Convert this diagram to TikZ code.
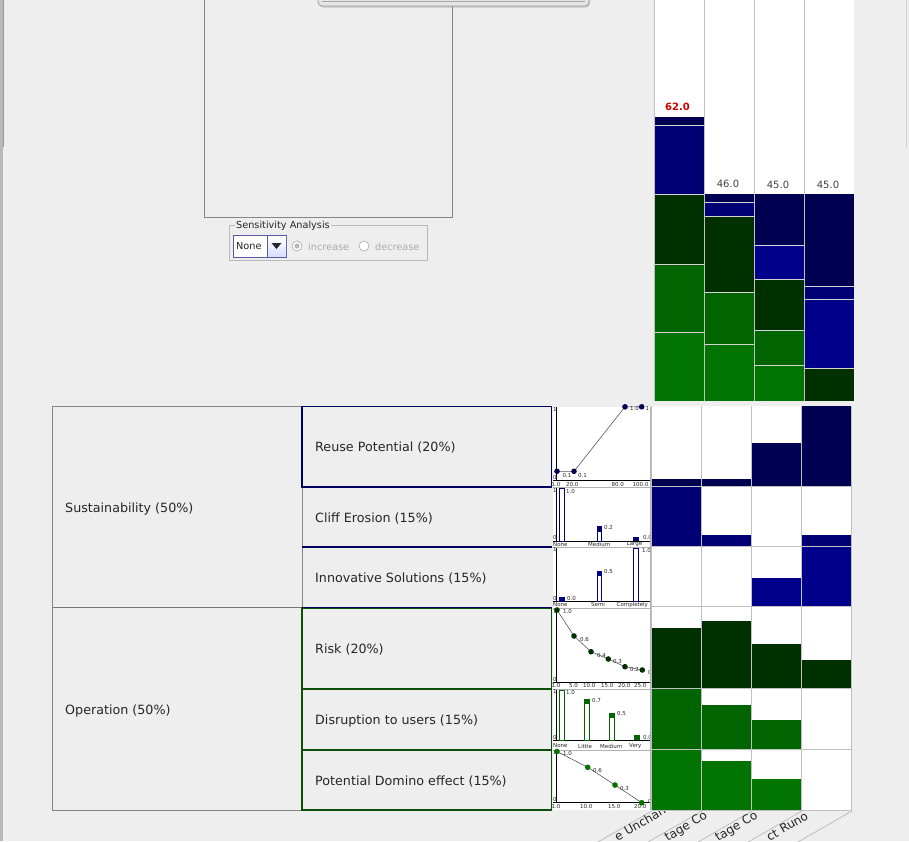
\documentclass[tikz,border=0pt]{standalone}
\usepackage{fontspec}
\setmainfont{DejaVu Sans}
\usetikzlibrary{shadows}
\definecolor{bg}{HTML}{EEEEEE}
\definecolor{frameg}{HTML}{858585}
\definecolor{navyT}{HTML}{000060}
\definecolor{greenT}{HTML}{0A4F0A}
\definecolor{reuseC}{HTML}{000052}
\definecolor{cliffC}{HTML}{000074}
\definecolor{innovC}{HTML}{00008A}
\definecolor{riskC}{HTML}{003000}
\definecolor{disC}{HTML}{006400}
\definecolor{domC}{HTML}{007300}
\definecolor{gridg}{HTML}{C0C0C0}
\definecolor{sepg}{HTML}{D4D4D4}
\definecolor{scoreRed}{HTML}{CC0000}
\begin{document}
\begin{tikzpicture}[x=1pt,y=-1pt,
  treetxt/.style={font=\fontsize{12.7}{15}\selectfont, text=black!85, anchor=west, inner sep=0},
  tinylab/.style={font=\fontsize{5.5}{6}\selectfont, inner sep=0, text=black!85, anchor=west},
  uitxt/.style={font=\fontsize{9.7}{11}\selectfont, inner sep=0, anchor=west},
  scoretxt/.style={font=\fontsize{10}{12}\selectfont, inner sep=0, text=black!75},
  hdrtxt/.style={font=\fontsize{12}{14}\selectfont, inner sep=0, anchor=base west, rotate=30, text=black!85},
  seg/.style={draw=sepg, line width=0.8pt},
  axisln/.style={black, line width=0.8pt},
  curve/.style={black!65, line width=0.6pt},
]
\useasboundingbox (0,0) rectangle (909,841);
\fill[bg] (0,0) rectangle (909,841);
% window edges
\fill[gray!55] (0,0) rectangle (3,841);
\draw[gray!80, line width=0.8pt] (3.2,0) -- (3.2,147);
\draw[gray!35, line width=0.8pt] (906,0) -- (906,148);

% top box
\draw[frameg, line width=0.9pt] (204.5,-2) -- (204.5,217.5) -- (452.5,217.5) -- (452.5,-2);
% popup
\draw[rounded corners=4pt, fill=gray!20, draw=gray!75, line width=0.8pt, drop shadow={shadow xshift=1pt, shadow yshift=-1.5pt, opacity=0.35}] (318,-12) rectangle (589,6);
\draw[gray!70, line width=0.8pt] (322,1) -- (585,1);

% Sensitivity analysis group
\draw[gray!55, line width=0.8pt] (229.5,225.5) rectangle (427.5,260);
\node[uitxt, fill=bg, inner sep=1pt, text=black!85] (satitle) at (235,226) {Sensitivity Analysis};
\draw[draw=blue!30!gray, fill=white, line width=0.8pt] (233.5,235.5) rectangle (286.5,257);
\shade[top color=white, bottom color=cyan!15!blue!15] (267.5,236) rectangle (286,256.5);
\draw[blue!30!gray, line width=0.8pt] (267.5,235.5) -- (267.5,257);
\fill[black!85] (271.5,243) -- (281.5,243) -- (276.5,249) -- cycle;
\node[uitxt, text=black!85] (combo) at (236,246.5) {None};
\draw[gray!60, fill=white, line width=0.7pt] (297,246) circle (5pt);
\fill[gray!55] (297,246) circle (2.6pt);
\node[uitxt, text=gray!65] (inc) at (308,246.5) {increase};
\draw[gray!60, fill=white, line width=0.7pt] (364,246) circle (5pt);
\node[uitxt, text=gray!65] (dec) at (375,246.5) {decrease};

% ===== top stacked bar chart =====
\fill[white] (654.5,0) rectangle (854,401);
% col1
\fill[reuseC] (655,116.7) rectangle (704,125);
\fill[cliffC] (655,125) rectangle (704,194);
\fill[riskC] (655,194) rectangle (704,264.3);
\fill[disC] (655,264.3) rectangle (704,332.3);
\fill[domC] (655,332.3) rectangle (704,400.7);
\draw[seg] (655,125) -- (704,125) (655,194) -- (704,194) (655,264.3) -- (704,264.3) (655,332.3) -- (704,332.3);
% col2
\fill[reuseC] (705,193.7) rectangle (754,202.3);
\fill[cliffC] (705,202.3) rectangle (754,216.3);
\fill[riskC] (705,216.3) rectangle (754,292);
\fill[disC] (705,292) rectangle (754,344.3);
\fill[domC] (705,344.3) rectangle (754,400.7);
\draw[seg] (705,202.3) -- (754,202.3) (705,216.3) -- (754,216.3) (705,292) -- (754,292) (705,344.3) -- (754,344.3);
% col3
\fill[reuseC] (755,194.3) rectangle (804,245);
\fill[innovC] (755,245) rectangle (804,279);
\fill[riskC] (755,279) rectangle (804,330);
\fill[disC] (755,330) rectangle (804,365);
\fill[domC] (755,365) rectangle (804,400.7);
\draw[seg] (755,245) -- (804,245) (755,279) -- (804,279) (755,330) -- (804,330) (755,365) -- (804,365);
% col4
\fill[reuseC] (805,194.3) rectangle (854,286);
\fill[cliffC] (805,286) rectangle (854,299);
\fill[innovC] (805,299) rectangle (854,368);
\fill[riskC] (805,368) rectangle (854,400.7);
\draw[seg] (805,286) -- (854,286) (805,299) -- (854,299) (805,368) -- (854,368);
% column separators
\draw[gridg, line width=0.8pt] (654.5,0) -- (654.5,401) (704.5,0) -- (704.5,401) (754.5,0) -- (754.5,401) (804.5,0) -- (804.5,401);
\node[scoretxt, text=scoreRed, font=\fontsize{10}{12}\selectfont\bfseries] (s1) at (677.5,106.5) {62.0};
\node[scoretxt] (s2) at (728,184) {46.0};
\node[scoretxt] (s3) at (778,185) {45.0};
\node[scoretxt] (s4) at (828,185) {45.0};

% ===== tree =====
\fill[bg] (52,406) rectangle (551,810);
\draw[frameg, line width=0.9pt] (52.5,406.5) rectangle (302,810);
\draw[frameg!90!black, line width=1.6pt] (52.5,607.5) -- (302,607.5);
\node[treetxt] (sust) at (65,508.5) {Sustainability (50\%)};
\node[treetxt] (oper) at (65,710.5) {Operation (50\%)};
% middle column
\draw[navyT, line width=1.5pt] (302,406.5) rectangle (551.5,487) (302,487) -- (551.5,487) (302,547) -- (551.5,547);
\draw[greenT, line width=1.5pt] (302,608) rectangle (551.5,810) (302,689) -- (551.5,689) (302,750) -- (551.5,750);
\draw[navyT, line width=1.5pt] (302,607.5) -- (551.5,607.5);
\node[treetxt] (reuse) at (315,447.5) {Reuse Potential (20\%)};
\node[treetxt] (cliff) at (315,518.5) {Cliff Erosion (15\%)};
\node[treetxt] (innov) at (315,578.5) {Innovative Solutions (15\%)};
\node[treetxt] (risk) at (315,649.5) {Risk (20\%)};
\node[treetxt] (disr) at (315,720.5) {Disruption to users (15\%)};
\node[treetxt] (domi) at (315,781.5) {Potential Domino effect (15\%)};

% ===== mini charts =====
\fill[white] (552.5,407) rectangle (650.5,809.5);
\draw[gray!60, line width=0.6pt] (552.5,487) -- (650.5,487) (552.5,547) -- (650.5,547) (552.5,608) -- (650.5,608) (552.5,689) -- (650.5,689) (552.5,750) -- (650.5,750);
% Reuse
\draw[axisln] (556.7,407) -- (556.7,480.5) (553,480.5) -- (650.5,480.5);
\node[tinylab] at (552.8,409.5) {1};
\node[tinylab] at (552.8,477) {0};
\draw[curve] (557,471.3) -- (574,471.3) -- (625,406.8) -- (641.7,406.8);
\foreach \p in {(557,471.3),(574,471.3),(625,406.8),(641.7,406.8)} \fill[reuseC] \p circle (2.8pt);
\node[tinylab] at (562.5,475) {0.1};
\node[tinylab] at (578,475) {0.1};
\node[tinylab] at (630,408.5) {1.0};
\node[tinylab] at (645.5,408.5) {1};
\node[tinylab] at (551.5,484) {1.0};
\node[tinylab] at (566,484) {20.0};
\node[tinylab] at (611.5,484) {80.0};
\node[tinylab] at (632.5,484) {100.0};
% Cliff
\draw[axisln] (556.7,488) -- (556.7,541) (553,541) -- (650.5,541);
\node[tinylab] at (552.8,490) {1};
\node[tinylab] at (552.8,537.5) {0};
\draw[cliffC, line width=0.8pt] (559.5,541) rectangle (564,488.5);
\node[tinylab] at (566,491) {1.0};
\draw[cliffC, line width=0.8pt] (597,541) rectangle (601.5,526);
\fill[cliffC] (596.6,526) rectangle (601.9,531.5);
\node[tinylab] at (604,527.5) {0.2};
\fill[cliffC] (633,536.5) rectangle (638.5,541);
\node[tinylab] at (643,537.5) {0.0};
\node[tinylab] at (553,544.3) {None};
\node[tinylab] at (588,544.3) {Medium};
\node[tinylab] at (626.5,544.3) {Large};
% Innovative
\draw[axisln] (556.7,548) -- (556.7,601.7) (553,601.7) -- (650.5,601.7);
\node[tinylab] at (552.8,549.8) {1};
\node[tinylab] at (552.8,598) {0};
\fill[innovC] (559,597.3) rectangle (564.7,601.7);
\node[tinylab] at (567,598.5) {0.0};
\draw[innovC, line width=0.8pt] (597,601.7) rectangle (601.5,571);
\fill[innovC] (596.6,571) rectangle (601.9,576);
\node[tinylab] at (604,571.5) {0.5};
\draw[innovC, line width=0.8pt] (633.5,601.7) rectangle (638.3,548.5);
\node[tinylab] at (642,550) {1.0};
\begin{scope}
\clip (552.5,600) rectangle (650.5,607.5);
\node[tinylab] at (553,604.8) {None};
\node[tinylab] at (591,604.8) {Semi};
\node[tinylab] at (616.5,604.8) {Completely};
\end{scope}
% Risk
\draw[axisln] (556.7,609) -- (556.7,682.7) (553,682.7) -- (650.5,682.7);
\node[tinylab] at (552.8,611) {1};
\node[tinylab] at (552.8,679) {0};
\draw[curve] (557,610) -- (574,636) -- (591,651.7) -- (608.3,659) -- (625,666.7) -- (642.3,670);
\foreach \p in {(557,610),(574,636),(591,651.7),(608.3,659),(625,666.7),(642.3,670)} \fill[riskC] \p circle (2.8pt);
\node[tinylab] at (563,611.5) {1.0};
\node[tinylab] at (580,639.5) {0.6};
\node[tinylab] at (597,655) {0.4};
\node[tinylab] at (613,661.5) {0.3};
\node[tinylab] at (630,669.5) {0.2};
\node[tinylab] at (648,672.5) {0.};
\node[tinylab] at (551.5,685.8) {1.0};
\node[tinylab] at (569,685.8) {5.0};
\node[tinylab] at (583,685.8) {10.0};
\node[tinylab] at (601,685.8) {15.0};
\node[tinylab] at (618,685.8) {20.0};
\node[tinylab] at (634,685.8) {25.0};
% Disruption
\draw[axisln] (556.7,690) -- (556.7,740) (553,740) -- (650.5,740);
\node[tinylab] at (552.8,691.5) {1};
\node[tinylab] at (552.8,737) {0};
\draw[disC, line width=0.8pt] (559.5,740) rectangle (564,690.5);
\node[tinylab] at (566,692) {1.0};
\draw[disC, line width=0.8pt] (584.5,740) rectangle (589,699);
\fill[disC] (584.1,699) rectangle (589.4,704);
\node[tinylab] at (592,700) {0.7};
\draw[disC, line width=0.8pt] (609.5,740) rectangle (614,713);
\fill[disC] (609.1,713) rectangle (614.4,718);
\node[tinylab] at (617,713.5) {0.5};
\fill[disC] (634,735.3) rectangle (639.5,740);
\node[tinylab] at (643,737) {0.0};
\node[tinylab] at (553,746) {None};
\node[tinylab] at (578,746) {Little};
\node[tinylab] at (600,746) {Medium};
\node[tinylab] at (629,746) {Very};
% Domino
\draw[axisln] (556.7,751) -- (556.7,802.7) (553,802.7) -- (650.5,802.7);
\node[tinylab] at (552.8,752.5) {1};
\node[tinylab] at (552.8,799) {0};
\draw[curve] (557,751.5) -- (587.7,767.3) -- (615,785) -- (641.7,802.7);
\foreach \p in {(557,751.5),(587.7,767.3),(615,785),(641.7,802.7)} \fill[domC] \p circle (2.8pt);
\node[tinylab] at (563,753.5) {1.0};
\node[tinylab] at (593,770) {0.6};
\node[tinylab] at (620,788) {0.3};
\node[tinylab] at (648,801) {0};
\node[tinylab] at (551.5,806) {1.0};
\node[tinylab] at (580,806) {10.0};
\node[tinylab] at (608,806) {15.0};
\node[tinylab] at (634,806) {20.0};
\draw[gray!60, line width=0.6pt] (650.5,407) -- (650.5,809.5);

% ===== matrix =====
\fill[white] (651.5,406) rectangle (851.7,810);
% Reuse row
\fill[reuseC] (652,479) rectangle (701.7,486.3);
\fill[reuseC] (701.7,479) rectangle (751.7,486.3);
\fill[reuseC] (751.7,443) rectangle (801.7,486.3);
\fill[reuseC] (801.7,406) rectangle (851.7,486.3);
% Cliff row
\fill[cliffC] (652,486.3) rectangle (701.7,546.3);
\fill[cliffC] (701.7,535) rectangle (751.7,546.3);
\fill[cliffC] (801.7,535) rectangle (851.7,546.3);
% Innovative row
\fill[innovC] (751.7,578) rectangle (801.7,606.7);
\fill[innovC] (801.7,546.3) rectangle (851.7,606.7);
% Risk row
\fill[riskC] (652,628) rectangle (701.7,688.3);
\fill[riskC] (701.7,621) rectangle (751.7,688.3);
\fill[riskC] (751.7,644) rectangle (801.7,688.3);
\fill[riskC] (801.7,660) rectangle (851.7,688.3);
% Disruption row
\fill[disC] (652,688.3) rectangle (701.7,749.3);
\fill[disC] (701.7,705) rectangle (751.7,749.3);
\fill[disC] (751.7,720) rectangle (801.7,749.3);
% Domino row
\fill[domC] (652,749.3) rectangle (701.7,810);
\fill[domC] (701.7,761) rectangle (751.7,810);
\fill[domC] (751.7,779) rectangle (801.7,810);
% grid
\draw[gridg, line width=0.8pt] (651.7,406) -- (651.7,810) (701.7,406) -- (701.7,810) (751.7,406) -- (751.7,810) (801.7,406) -- (801.7,810) (851.7,406) -- (851.7,810);
\draw[gridg, line width=0.8pt] (651.7,486.3) -- (851.7,486.3) (651.7,546.3) -- (851.7,546.3) (651.7,606.7) -- (851.7,606.7) (651.7,688.3) -- (851.7,688.3) (651.7,749.3) -- (851.7,749.3) (651.7,810) -- (851.7,810);

% ===== rotated column headers =====
\begin{scope}
\clip (560,811) rectangle (909,841);
\foreach \xb in {652,702,752,802,852} \draw[gray!55, line width=0.7pt] (\xb,811) -- (\xb-54,842);
\node[hdrtxt] (h1) at (617.5,841.5) {e Unchan};
\node[hdrtxt] (h2) at (667.5,841.5) {tage Co};
\node[hdrtxt] (h3) at (718,841.5) {tage Co};
\node[hdrtxt] (h4) at (769.5,841.5) {ct Runo};
\end{scope}
\end{tikzpicture}
\end{document}
